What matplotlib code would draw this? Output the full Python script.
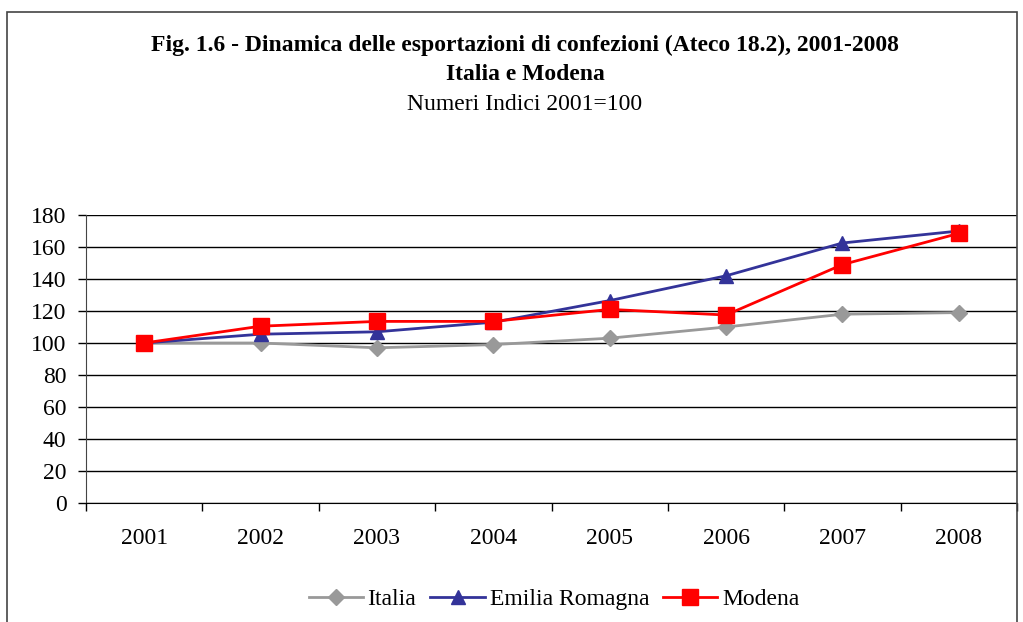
import matplotlib
matplotlib.use('Agg')
import matplotlib.pyplot as plt
from matplotlib.patches import Rectangle

# Dati (numeri indici 2001=100)
anni = ['2001', '2002', '2003', '2004', '2005', '2006', '2007', '2008']
italia = [100, 100, 97, 99, 103, 110, 118, 119]
emilia_romagna = [100, 105.5, 107, 113, 126.5, 142, 162.5, 170]
modena = [100, 110.5, 113.5, 113.5, 121, 117.5, 149, 168.5]
y_ticks = [0, 20, 40, 60, 80, 100, 120, 140, 160, 180]

plt.rcParams['font.family'] = ['Liberation Serif', 'DejaVu Serif']

fig = plt.figure(figsize=(10.23, 6.22), dpi=100)
ax = fig.add_axes([86 / 1023, 1 - 503 / 622, (1017 - 86) / 1023, (503 - 215) / 622])

# cornice esterna
fig.patches.append(Rectangle((7 / 1023, -0.05), 1010 / 1023, 1 - 12 / 622 + 0.05,
                             transform=fig.transFigure, fill=False,
                             edgecolor='#444444', linewidth=1.2))

x = range(len(anni))
ax.plot(x, italia, color='#999999', marker='D', markersize=8, linewidth=2,
        label='Italia', zorder=3)
ax.plot(x, emilia_romagna, color='#333399', marker='^', markersize=10, linewidth=2,
        label='Emilia Romagna', zorder=4)
ax.plot(x, modena, color='#ff0000', marker='s', markersize=11, linewidth=2,
        label='Modena', zorder=5)

ax.set_xlim(-0.5, len(anni) - 0.5)
ax.set_ylim(0, 180)
ax.set_yticks(y_ticks)
ax.set_xticks([i - 0.5 for i in range(len(anni) + 1)])
ax.set_xticklabels([])
ax.set_xticks(list(x), minor=True)
ax.set_xticklabels(anni, minor=True)
ax.tick_params(axis='x', which='minor', length=0, labelsize=17, pad=18)
ax.tick_params(axis='x', which='major', length=6, direction='out', width=1)
ax.tick_params(axis='y', labelsize=17, length=6, width=1, pad=8)

ax.grid(True, axis='y', color='black', linewidth=1)
for s in ['top', 'right']:
    ax.spines[s].set_visible(False)
ax.spines['left'].set_color('#444444')
ax.spines['bottom'].set_color('black')

fig.text(525 / 1023, 1 - 45 / 622, 'Fig. 1.6 - Dinamica delle esportazioni di confezioni (Ateco 18.2), 2001-2008',
         ha='center', va='center', fontsize=17, fontweight='bold')
fig.text(525 / 1023, 1 - 74 / 622, 'Italia e Modena', ha='center', va='center',
         fontsize=17, fontweight='bold')
fig.text(525 / 1023, 1 - 105 / 622, 'Numeri Indici 2001=100', ha='center', va='center',
         fontsize=17)

fig.legend(loc='center', bbox_to_anchor=(554 / 1023, 1 - 599 / 622), ncol=3,
           frameon=False, fontsize=17, handlelength=2.3, handletextpad=0.2,
           columnspacing=0.6, markerscale=1.0)

fig.savefig('out.png', dpi=100)
